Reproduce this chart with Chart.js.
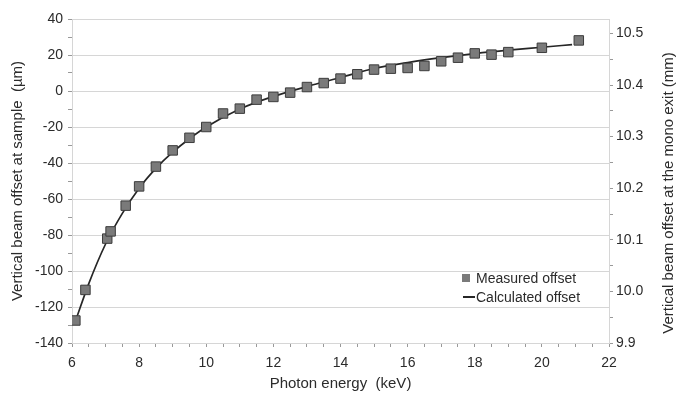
<!DOCTYPE html>
<html>
<head>
<meta charset="utf-8">
<script src="https://cdn.jsdelivr.net/npm/chart.js@4/dist/chart.umd.min.js"></script>
<style>
  html, body { margin: 0; padding: 0; background: #fff; }
  #wrap { width: 677px; height: 395px; }
</style>
</head>
<body>
<div id="wrap"><canvas id="offsetChart" width="677" height="395"></canvas></div>
<script>
// measured points (photon energy in keV, offset in um)
const measuredEnergy = [6.1, 6.4, 7.05, 7.15, 7.6, 8, 8.5, 9, 9.5, 10, 10.5, 11, 11.5, 12, 12.5, 13, 13.5, 14, 14.5, 15, 15.5, 16, 16.5, 17, 17.5, 18, 18.5, 19, 20, 21.1];
const measuredOffset = [-127.5, -110.5, -82, -78, -63.7, -53, -42, -33, -26, -20, -12.5, -9.8, -4.8, -3.3, -0.9, 2.2, 4.4, 6.9, 9.3, 11.9, 12.4, 12.8, 13.9, 16.5, 18.5, 20.9, 20.2, 21.6, 24.0, 28.1];

// calculated curve
const calcEnergy = [6.1, 6.5, 7, 7.5, 8, 8.5, 9, 9.5, 10, 11, 12, 13, 14, 15, 16, 17, 18, 19, 20, 20.9];
const calcOffset = [-128, -107, -85, -68, -54, -43, -34, -26.5, -20, -10, -3, 2.5, 7.5, 12.5, 15.8, 18.5, 20.8, 22.7, 24.3, 25.8];

const seriesLabels = ['Measured offset', 'Calculated offset'];
const xTitle = 'Photon energy  (keV)';
const yTitle = 'Vertical beam offset at sample  (\u00b5m)';
const y2Title = 'Vertical beam offset at the mono exit (mm)';

// ticks: left and x axes labelled every 20 / 2, right axis 9.9 .. 10.5
const xRange = [6, 22];
const yRange = [-140, 40];
const y2Range = [9.9, 10.528];
const y2Ticks = [9.9, 9.95, 10.0, 10.05, 10.1, 10.15, 10.2, 10.25, 10.3, 10.35, 10.4, 10.45, 10.5];

const textColor = '#2b2b2b';
const gridColor = '#d6d6d6';
const tickMarkColor = '#999';

Chart.defaults.font.family = '"Liberation Sans", Arial, sans-serif';
Chart.defaults.font.size = 14;
Chart.defaults.color = textColor;

const frame = {
    id: 'frame',
    beforeDatasetsDraw(chart) {
        const a = chart.chartArea;
        const ctx = chart.ctx;
        ctx.save();
        ctx.strokeStyle = gridColor;
        ctx.lineWidth = 1;
        ctx.strokeRect(Math.round(a.left) + 0.5, Math.round(a.top) + 0.5, Math.round(a.right - a.left), Math.round(a.bottom - a.top));
        ctx.restore();
    },
    afterDraw(chart) {
        const a = chart.chartArea;
        const ctx = chart.ctx;
        ctx.save();
        // right axis title, reading bottom to top
        ctx.font = '15px "Liberation Sans", Arial, sans-serif';
        ctx.fillStyle = textColor;
        ctx.textAlign = 'center';
        ctx.textBaseline = 'middle';
        ctx.translate(669, (a.top + a.bottom) / 2 + 12);
        ctx.rotate(-Math.PI / 2);
        ctx.fillText(y2Title, 0, 0);
        ctx.restore();

        // legend inside the plot
        const m = chart.data.datasets[0];
        const c = chart.data.datasets[1];
        const lx = a.right - 143;
        const ly1 = a.bottom - 65;
        const ly2 = a.bottom - 46;
        ctx.save();
        ctx.fillStyle = m.backgroundColor;
        ctx.fillRect(lx - 4, ly1 - 4, 8, 8);
        ctx.strokeStyle = c.borderColor;
        ctx.lineWidth = 2;
        ctx.beginPath();
        ctx.moveTo(lx - 3, ly2);
        ctx.lineTo(lx + 9, ly2);
        ctx.stroke();
        ctx.font = '14px "Liberation Sans", Arial, sans-serif';
        ctx.fillStyle = textColor;
        ctx.textBaseline = 'middle';
        ctx.fillText(m.label, lx + 10, ly1 + 1);
        ctx.fillText(c.label, lx + 10, ly2 + 1);
        ctx.restore();
    }
};

const ctx = document.getElementById('offsetChart').getContext('2d');
const offsetChart = new Chart(ctx, {
    type: 'scatter',
    data: {
        datasets: [{
            label: seriesLabels[0],
            data: measuredEnergy.map((e, i) => ({ x: e, y: measuredOffset[i] })),
            backgroundColor: '#7a7a7a',
            borderColor: '#3c3c3c',
            borderWidth: 1,
            pointStyle: 'rect',
            pointRadius: 6.7,
            order: 0
        }, {
            label: seriesLabels[1],
            data: calcEnergy.map((e, i) => ({ x: e, y: calcOffset[i] })),
            showLine: true,
            borderColor: '#262626',
            borderWidth: 1.7,
            pointRadius: 0,
            cubicInterpolationMode: 'monotone',
            order: 1
        }]
    },
    options: {
        responsive: false,
        animation: false,
        layout: { padding: { top: 19, left: 0, right: 0, bottom: 0 } },
        plugins: {
            legend: { display: false },
            tooltip: { enabled: false }
        },
        scales: {
            x: {
                type: 'linear',
                min: xRange[0],
                max: xRange[1],
                afterFit: s => { s.height = 52; },
                ticks: {
                    stepSize: 0.5,
                    maxRotation: 0,
                    autoSkip: false,
                    padding: 8,
                    callback: v => (v % 2 === 0 ? v : '')
                },
                grid: { drawOnChartArea: false, tickLength: 4, tickColor: tickMarkColor },
                border: { color: gridColor },
                title: {
                    display: true,
                    text: xTitle,
                    font: { size: 15 },
                    padding: { top: 0, bottom: 2 }
                }
            },
            y: {
                position: 'left',
                min: yRange[0],
                max: yRange[1],
                afterFit: s => { s.width = 72; },
                ticks: {
                    stepSize: 10,
                    autoSkip: false,
                    padding: 5,
                    callback: v => (v % 20 === 0 ? v : '')
                },
                grid: {
                    tickLength: 4,
                    tickColor: tickMarkColor,
                    color: c => (c.tick && c.tick.value % 20 === 0 ? gridColor : 'rgba(0,0,0,0)')
                },
                border: { color: gridColor },
                title: {
                    display: true,
                    text: yTitle,
                    font: { size: 15 },
                    padding: { top: 9, bottom: 0 }
                }
            },
            y2: {
                position: 'right',
                min: y2Range[0],
                max: y2Range[1],
                afterFit: s => { s.width = 68; },
                afterBuildTicks: s => { s.ticks = y2Ticks.map(v => ({ value: v })); },
                ticks: {
                    autoSkip: false,
                    padding: 3,
                    callback: v => (Math.round(v * 100) % 10 === 0 ? v.toFixed(1) : '')
                },
                grid: { drawOnChartArea: false, tickLength: 4, tickColor: tickMarkColor },
                border: { color: gridColor }
            }
        }
    },
    plugins: [frame]
});
</script>
</body>
</html>
